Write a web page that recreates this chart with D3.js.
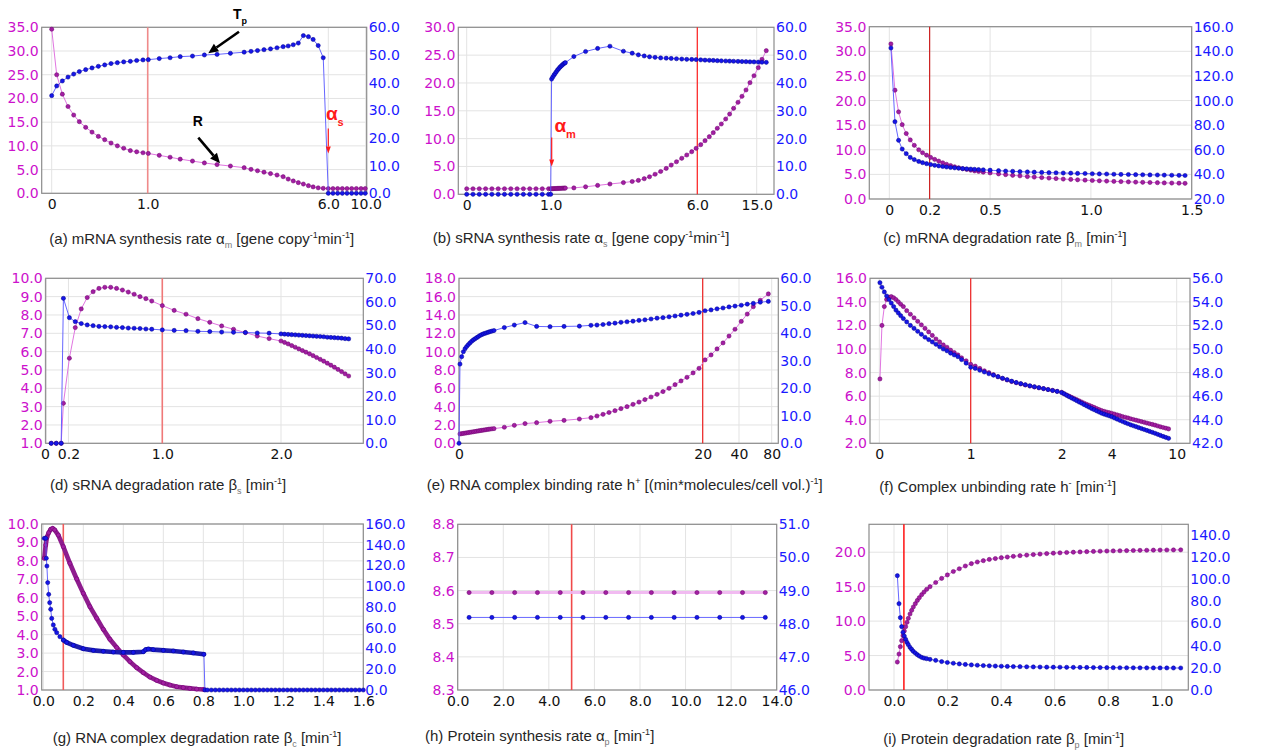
<!DOCTYPE html>
<html><head><meta charset="utf-8">
<script src="https://cdn.jsdelivr.net/npm/d3@7"></script>
<style>body{margin:0;background:#fff}</style>
</head><body>
<svg id="c" width="1261" height="754"></svg>
<script>
// ---------------- DATA ----------------
// (a) mRNA synthesis rate
const aX = [0,0.052,0.111,0.17,0.229,0.288,0.354,0.42,0.486,0.552,0.618,0.684,0.75,0.819,0.885,0.951,1.017,1.32,1.62,1.9,2.24,2.57,2.92,3.29,3.67,3.86,4.04,4.22,4.4,4.58,4.75,4.89,5.03,5.17,5.31,5.45,5.58,5.72,5.86,6.0,6.5,7.0,7.5,8.0,8.5,9.0,9.5,9.95];
const aR = [34.6,25.0,20.9,18.3,16.5,15.1,13.9,12.9,12.0,11.3,10.6,10.0,9.5,9.0,8.75,8.55,8.4,8.0,7.6,7.2,6.8,6.4,6.05,5.75,5.4,5.05,4.75,4.45,4.15,3.85,3.5,3.0,2.6,2.25,1.95,1.6,1.35,1.15,1.05,1.0,1.0,1.0,1.0,1.0,1.0,1.0,1.0,1.0];
const aT = [35.3,38.8,40.6,42.0,43.1,44.0,44.7,45.3,45.9,46.4,46.9,47.2,47.5,47.7,48.0,48.2,48.3,48.7,49.0,49.4,49.6,50.0,50.2,50.6,51.0,51.3,51.6,51.9,52.2,52.6,53.0,53.25,53.7,54.3,57.0,56.6,55.6,53.4,49.0,0,0,0,0,0,0,0,0,0];
const aXTicks = [0,1,6,10];
const aXLabels = ["0","1.0","6.0","10.0"];
const aLTicks = [0,5,10,15,20,25,30,35];
const aRTicks = [0,10,20,30,40,50,60];

// (b) sRNA synthesis rate
const bX = [0,0.075,0.15,0.225,0.3,0.375,0.45,0.525,0.6,0.675,0.75,0.825,0.9,0.975,
  1.0,1.03,1.07,1.11,1.15,1.19,1.23,1.27,1.31,1.35,1.39,1.43,1.47,1.5,
  1.79,2.19,2.6,3.02,3.48,3.78,3.99,4.19,4.37,4.56,4.75,4.94,5.11,5.29,5.47,5.64,5.81,5.96,
  6.52,7.17,7.82,8.42,9.03,9.64,10.3,10.9,11.5,12.17,12.77,13.38,13.98,14.59,15.24,15.8,16.45];
const bR = [1,1,1,1,1,1,1,1,1,1,1,1,1,1,
  1.0,1.0,1.01,1.02,1.03,1.04,1.05,1.06,1.07,1.08,1.09,1.1,1.11,1.12,
  1.15,1.35,1.6,1.85,2.1,2.3,2.5,2.8,3.15,3.6,4.1,4.65,5.25,5.85,6.47,7.06,7.65,8.26,
  8.91,9.63,10.35,11.07,11.86,12.63,13.53,14.42,15.45,16.53,17.6,18.74,20.05,21.3,22.74,24.25,25.8];
const bT = [0,0,0,0,0,0,0,0,0,0,0,0,0,0,
  0,41.4,42.1,42.8,43.4,44.0,44.6,45.1,45.6,46.0,46.4,46.8,47.1,47.3,
  49.5,51.3,52.4,53.2,51.4,50.7,50.1,49.7,49.4,49.2,49.0,48.9,48.8,48.7,48.6,48.5,48.45,48.4,
  48.3,48.2,48.15,48.1,48.0,47.95,47.9,47.85,47.8,47.75,47.7,47.65,47.6,47.55,47.5,47.45,47.4];
const bXTicks = [0,1,6,15];
const bXLabels = ["0","1.0","6.0","15.0"];
const bLTicks = [0,5,10,15,20,25,30];
const bRTicks = [0,10,20,30,40,50,60];

// (c) mRNA degradation rate
const cX = [0.008,0.028,0.046,0.064,0.084,0.104,0.124,0.146,0.165,0.185,0.205,0.225,0.245,0.265,0.284,0.304,0.324,0.344,0.364,0.384,0.404,0.423,0.443,0.466,0.5,0.542,0.577,0.612,0.648,0.685,0.719,0.756,0.792,0.827,0.863,0.9,0.934,0.971,1.007,1.042,1.078,1.114,1.149,1.186,1.222,1.257,1.293,1.33,1.364,1.401,1.437,1.467];
const cR = [31.5,22.1,17.7,15.1,13.3,12.0,10.9,10.0,9.4,8.9,8.45,8.05,7.7,7.35,7.05,6.8,6.55,6.35,6.15,6.0,5.85,5.7,5.6,5.45,5.3,5.1,4.95,4.8,4.7,4.55,4.45,4.35,4.25,4.15,4.05,3.98,3.9,3.83,3.76,3.7,3.64,3.58,3.53,3.48,3.43,3.39,3.35,3.31,3.27,3.24,3.21,3.18];
const cT = [142.7,82.8,67.7,60.6,56.8,53.8,52.0,50.5,49.5,48.7,48.0,47.4,46.9,46.4,46.0,45.6,45.3,45.0,44.7,44.5,44.3,44.1,43.9,43.7,43.4,43.0,42.7,42.5,42.2,42.0,41.8,41.6,41.4,41.3,41.1,41.0,40.8,40.7,40.5,40.4,40.3,40.1,40.0,39.9,39.8,39.7,39.6,39.5,39.4,39.3,39.2,39.1];
const cXTicks = [0,0.2,0.5,1.0,1.5];
const cXLabels = ["0","0.2","0.5","1.0","1.5"];
const cLTicks = [0,5,10,15,20,25,30,35];
const cRTicks = [20,40,60,80,100,120,140,160];

// (d) sRNA degradation rate
const dX = [0.053,0.096,0.138,0.157,0.208,0.258,0.309,0.36,0.41,0.46,0.51,0.56,0.61,0.66,0.71,0.76,0.81,0.86,0.91,1.0,1.1,1.2,1.3,1.4,1.5,1.6,1.7,1.8,1.9,2.0,2.03,2.06,2.09,2.12,2.15,2.18,2.21,2.24,2.27,2.3,2.33,2.36,2.39,2.42,2.45,2.48,2.51,2.54,2.57];
const dR = [1,1,1,3.18,5.64,7.31,8.33,8.95,9.27,9.45,9.51,9.51,9.45,9.36,9.25,9.13,9.0,8.89,8.76,8.51,8.25,8.04,7.8,7.6,7.4,7.22,7.04,6.85,6.71,6.58,6.5,6.42,6.33,6.24,6.15,6.06,5.97,5.88,5.78,5.68,5.58,5.48,5.37,5.26,5.15,5.03,4.91,4.79,4.67];
const dT = [0,0,0,61.5,53.3,51.6,50.8,50.2,49.9,49.6,49.5,49.4,49.2,49.1,48.9,48.8,48.7,48.5,48.4,48.1,47.9,47.8,47.5,47.4,47.2,47.1,47.0,46.8,46.7,46.4,46.3,46.2,46.1,46.0,45.9,45.8,45.7,45.6,45.5,45.4,45.3,45.2,45.0,44.9,44.8,44.7,44.6,44.4,44.3];
const dXTicks = [0,0.2,1,2];
const dXLabels = ["0","0.2","1.0","2.0"];
const dLTicks = [1,2,3,4,5,6,7,8,9,10];
const dRTicks = [0,10,20,30,40,50,60,70];

// (e) RNA complex binding rate
const eX = [0.08,0.22,0.36,0.5,0.63,0.77,0.9,1.04,1.18,1.31,1.45,1.59,1.72,1.86,2.0,2.14,2.27,2.41,2.54,2.7,2.87,
  3.72,4.54,5.42,6.37,7.47,8.62,9.88,
  10.83,11.32,11.82,12.31,12.8,13.29,13.79,14.28,14.77,15.26,15.76,16.25,16.74,17.24,17.73,18.22,18.71,19.21,19.7,
  21.3,24.6,27.9,31.2,34.5,37.8,42.8,50.1,57.5,66.0,75.9];
const eR = [1.02,1.05,1.08,1.11,1.14,1.17,1.2,1.23,1.26,1.29,1.32,1.35,1.38,1.41,1.44,1.47,1.5,1.53,1.55,1.58,1.6,
  1.75,1.96,2.15,2.25,2.4,2.5,2.65,
  2.8,2.98,3.16,3.36,3.56,3.78,4.0,4.25,4.5,4.77,5.05,5.34,5.64,6.0,6.4,6.8,7.2,7.68,8.18,
  9.1,9.64,10.3,10.95,11.7,12.44,13.3,14.1,14.9,15.6,16.3];
const eTX = [0].concat(eX);
const eT = [0,28.8,31.5,33.3,34.4,35.2,35.9,36.5,37.1,37.6,38.0,38.4,38.8,39.2,39.5,39.8,40.0,40.2,40.4,40.6,40.8,41.0,
  42.1,43.0,43.9,42.5,42.4,42.5,42.6,
  42.9,43.0,43.2,43.5,43.7,44.0,44.2,44.4,44.7,44.9,45.2,45.5,45.7,46.0,46.3,46.6,46.9,47.2,47.6,
  48.2,48.5,48.9,49.2,49.6,49.9,50.2,50.6,50.9,51.3,51.6];
const eXTicks = [0,20,40,80];
const eXLabels = ["0","20","40","80"];
const eLTicks = [0,2,4,6,8,10,12,14,16,18];
const eRTicks = [0,10,20,30,40,50,60];

// (f) Complex unbinding rate
const fX = [0.007,0.029,0.055,0.08,0.106,0.131,0.157,0.182,0.208,0.234,0.263,0.3,0.34,0.38,0.42,0.46,0.5,0.54,0.58,0.62,0.66,0.7,0.74,0.78,0.82,0.86,0.9,0.95,1.0,
  1.05,1.1,1.15,1.2,1.25,1.3,1.35,1.4,1.45,1.5,1.55,1.6,1.65,1.7,1.75,1.8,1.85,1.9,1.95,2.0,
  2.1,2.2,2.3,2.4,2.5,2.6,2.7,2.8,2.9,3.0,3.1,3.2,3.3,3.4,3.5,3.6,3.7,3.8,3.9,4.0,
  4.25,4.5,4.75,5.0,5.25,5.5,5.75,6.0,6.25,6.5,6.75,7.0,7.25,7.5,7.75,8.0,8.25,8.5,8.75,9.0,9.25];
const fR = [7.46,12.0,13.6,14.2,14.4,14.45,14.35,14.2,14.0,13.8,13.6,13.25,12.95,12.65,12.35,12.05,11.75,11.45,11.15,10.85,10.6,10.35,10.15,9.9,9.7,9.5,9.25,9.0,8.7,
  8.55,8.35,8.15,8.0,7.82,7.65,7.5,7.37,7.24,7.14,7.04,6.95,6.86,6.78,6.71,6.64,6.56,6.49,6.41,6.33,
  6.2,6.1,6.0,5.9,5.8,5.7,5.6,5.5,5.4,5.31,5.22,5.13,5.04,4.95,4.86,4.78,4.71,4.65,4.6,4.55,
  4.48,4.41,4.34,4.27,4.21,4.15,4.08,4.02,3.96,3.9,3.84,3.78,3.72,3.66,3.6,3.54,3.47,3.4,3.34,3.28,3.22];
const fT = [55.63,55.24,54.84,54.5,54.2,53.9,53.6,53.3,53.06,52.83,52.58,52.3,52.0,51.75,51.5,51.25,51.0,50.8,50.6,50.4,50.2,50.0,49.85,49.65,49.5,49.35,49.1,48.8,48.45,
  48.35,48.2,48.05,47.9,47.78,47.65,47.52,47.4,47.27,47.16,47.06,46.97,46.88,46.8,46.72,46.64,46.56,46.48,46.4,46.3,
  46.2,46.07,45.95,45.84,45.73,45.62,45.5,45.4,45.28,45.17,45.06,44.95,44.85,44.75,44.65,44.55,44.47,44.4,44.33,44.26,
  44.15,44.05,43.95,43.85,43.75,43.66,43.57,43.49,43.41,43.33,43.25,43.17,43.09,43.01,42.93,42.85,42.76,42.67,42.58,42.5,42.42];
const fXTicks = [0,1,2,4,10];
const fXLabels = ["0","1","2","4","10"];
const fLTicks = [2,4,6,8,10,12,14,16];
const fRTicks = [42,44,46,48,50,52,54,56];

// (g) RNA complex degradation rate
const gRX = [0.005,0.012,0.018,0.027,0.037,0.047,0.057,0.075,0.1,0.133,0.167,0.2,0.233,0.267,0.3,0.333,0.367,0.4,0.433,0.467,0.5,0.533,0.567,0.6,0.633,0.667,0.7,0.733,0.767,0.803];
const gR = [8.14,8.86,9.28,9.53,9.71,9.76,9.68,9.4,8.77,7.87,7.02,6.24,5.52,4.89,4.29,3.75,3.3,2.9,2.54,2.21,1.94,1.7,1.52,1.38,1.27,1.18,1.13,1.09,1.05,1.03];
const gTX = [0.005,0.012,0.015,0.018,0.022,0.027,0.032,0.037,0.042,0.05,0.058,0.067,0.083,0.1,0.117,0.15,0.2,0.25,0.3,0.35,0.4,0.45,0.5,0.512,0.525,0.55,0.6,0.65,0.7,0.75,0.803,0.808,
  0.82,0.84,0.86,0.88,0.9,0.92,0.94,0.96,0.98,1.0,1.02,1.04,1.06,1.08,1.1,1.12,1.14,1.16,1.18,1.2,
  1.22,1.24,1.26,1.28,1.3,1.32,1.34,1.36,1.38,1.4,1.42,1.44,1.46,1.48,1.5,1.52,1.54,1.56,1.58,1.6];
const gT = [146.2,146.2,127,119.5,103.5,92.2,84.2,77.8,69,62.7,58.5,55.3,51.4,48.2,45.9,43.1,39.8,38.2,37.3,36.6,36.3,36.3,36.9,38.9,39.5,38.9,38.2,37.6,36.6,35.7,34.4,0,
  0,0,0,0,0,0,0,0,0,0,0,0,0,0,0,0,0,0,0,0,
  0,0,0,0,0,0,0,0,0,0,0,0,0,0,0,0,0,0,0,0];
const gXTicks = [0,0.2,0.4,0.6,0.8,1.0,1.2,1.4,1.6];
const gXLabels = ["0.0","0.2","0.4","0.6","0.8","1.0","1.2","1.4","1.6"];
const gLTicks = [1,2,3,4,5,6,7,8,9,10];
const gRTicks = [0,20,40,60,80,100,120,140,160];

// (h) Protein synthesis rate
const hX = [0.5,1.5,2.5,3.5,4.5,5.5,6.5,7.5,8.5,9.5,10.5,11.5,12.5,13.5];
const hR = [8.594,8.594,8.594,8.594,8.594,8.594,8.594,8.594,8.594,8.594,8.594,8.594,8.594,8.594];
const hT = [48.19,48.19,48.19,48.19,48.19,48.19,48.19,48.19,48.19,48.19,48.19,48.19,48.19,48.19];
const hXTicks = [0,2,4,6,8,10,12,14];
const hXLabels = ["0.0","2.0","4.0","6.0","8.0","10.0","12.0","14.0"];
const hLTicks = [8.3,8.4,8.5,8.6,8.7,8.8];
const hRTicks = [46,47,48,49,50,51];

// (i) Protein degradation rate
const iX = [0.0125,0.0187,0.0237,0.0286,0.0336,0.0386,0.0436,0.0486,0.0535,0.0598,0.066,0.0722,0.0797,0.0872,0.0946,0.1034,0.1121,0.122,0.1345,0.1557,0.178,0.1993,0.2217,0.244,0.2665,0.289,0.3113,0.3337,0.356,0.3786,0.401,0.4234,0.4458,0.4707,0.4956,0.5205,0.5455,0.5704,0.5953,0.62,0.645,0.67,0.695,0.72,0.745,0.77,0.795,0.819,0.844,0.869,0.894,0.919,0.944,0.969,0.994,1.019,1.044,1.071];
const iR = [4.06,5.22,6.29,7.16,7.89,8.56,9.19,9.82,10.4,11.03,11.56,12.05,12.53,13.0,13.4,13.84,14.22,14.61,15.0,15.6,16.2,16.7,17.2,17.6,18.0,18.34,18.58,18.77,18.95,19.08,19.2,19.3,19.4,19.5,19.58,19.66,19.73,19.8,19.86,19.91,19.96,20.0,20.04,20.08,20.11,20.14,20.17,20.19,20.21,20.23,20.25,20.27,20.28,20.3,20.31,20.32,20.33,20.34];
const iT = [103,77.8,65.2,57.1,52,48.6,45.6,42.9,40.8,38.4,36.6,34.8,33.3,31.8,30.6,29.4,28.7,28.2,27.6,26.7,25.6,24.8,24.1,23.5,23.0,22.6,22.3,22.0,21.8,21.6,21.4,21.25,21.1,21.0,20.9,20.8,20.7,20.6,20.55,20.5,20.45,20.4,20.35,20.3,20.25,20.2,20.15,20.1,20.07,20.04,20.01,19.98,19.95,19.92,19.9,19.87,19.85,19.82];
const iXTicks = [0,0.2,0.4,0.6,0.8,1.0];
const iXLabels = ["0.0","0.2","0.4","0.6","0.8","1.0"];
const iLTicks = [0,5,10,15,20];
const iRTicks = [0,20,40,60,80,100,120,140];

// captions: [text, mode] mode: n normal, b sub, p sup
const capA = [["(a) mRNA synthesis rate α","n"],["m","b"],[" [gene copy","n"],["-1","p"],["min","n"],["-1","p"],["]","n"]];
const capB = [["(b) sRNA synthesis rate α","n"],["s","b"],[" [gene copy","n"],["-1","p"],["min","n"],["-1","p"],["]","n"]];
const capC = [["(c) mRNA degradation rate β","n"],["m","b"],[" [min","n"],["-1","p"],["]","n"]];
const capD = [["(d) sRNA degradation rate β","n"],["s","b"],[" [min","n"],["-1","p"],["]","n"]];
const capE = [["(e) RNA complex binding rate h","n"],["+","p"],[" [(min*molecules/cell vol.)","n"],["-1","p"],["]","n"]];
const capF = [["(f) Complex unbinding rate h","n"],["-","p"],[" [min","n"],["-1","p"],["]","n"]];
const capG = [["(g) RNA complex degradation rate β","n"],["c","b"],[" [min","n"],["-1","p"],["]","n"]];
const capH = [["(h) Protein synthesis rate α","n"],["p","b"],[" [min","n"],["-1","p"],["]","n"]];
const capI = [["(i) Protein degradation rate β","n"],["p","b"],[" [min","n"],["-1","p"],["]","n"]];

// ---------------- DRAWING ----------------
const svg = d3.select('#c');
const fmt1 = d3.format(".1f");
const MAG_LINE='#dd66dd', MAG_DOT='#a21ea2', MAG_EDGE='#6a006a';
const BLU_LINE='#5555ff', BLU_DOT='#1616e8', BLU_EDGE='#00008a';

const panels = [
 {box:[41.7,27.3,366.7,193.3], xd:[0,1,6,10], xr:[51.7,147.7,328.3,365.7], xt:aXTicks, xl:aXLabels,
  yl:[0,35], ylt:aLTicks, yr:[0,60], yrt:aRTicks, ref:1.0, refC:'#f08a8a', refW:1.6,
  rx:aX, r:aR, tx:aX, t:aT, cap:capA, capPos:[49.3,244]},
 {box:[458.3,27.3,774,194.3], xd:[0,1,6,15], xr:[466.7,550.7,697.3,756.7], xt:bXTicks, xl:bXLabels,
  yl:[0,30], ylt:bLTicks, yr:[0,60], yrt:bRTicks, ref:6.0, refC:'#ff2020', refW:1.2,
  rx:bX, r:bR, tx:bX, t:bT, cap:capB, capPos:[432.7,243]},
 {box:[869.3,26.7,1191.7,199], xd:[0,1.5], xr:[889.3,1191.7], xt:cXTicks, xl:cXLabels,
  yl:[0,35], ylt:cLTicks, yr:[20,160], yrt:cRTicks, ref:0.2, refC:'#cc2020', refW:1.2,
  rx:cX, r:cR, tx:cX, t:cT, cap:capC, capPos:[883.3,243]},
 {box:[45.7,278.3,363.3,443.3], xd:[0,1,2], xr:[45,162.3,281], xt:dXTicks, xl:dXLabels,
  yl:[1,10], ylt:dLTicks, yr:[0,70], yrt:dRTicks, ref:1.0, refC:'#f07878', refW:1.6,
  rx:dX, r:dR, tx:dX, t:dT, cap:capD, capPos:[50,490]},
 {box:[459,278.3,778.3,443.3], xd:[0,20,40,80], xr:[459,702.7,739,771.7], xt:eXTicks, xl:eXLabels,
  yl:[0,18], ylt:eLTicks, yr:[0,60], yrt:eRTicks, ref:20, refC:'#ee2222', refW:1.2,
  rx:eX, r:eR, tx:eTX, t:eT, cap:capE, capPos:[426.7,489.5]},
 {box:[870,278.3,1190,443.3], xd:[0,1,2,4,10], xr:[879.3,970.7,1061.7,1111.7,1176.7], xt:fXTicks, xl:fXLabels,
  yl:[2,16], ylt:fLTicks, yr:[42,56], yrt:fRTicks, ref:1, refC:'#ee2222', refW:1.2,
  rx:fX, r:fR, tx:fX, t:fT, cap:capF, capPos:[879.3,491.5]},
 {box:[41.7,524,363.3,690], xd:[0,1.6], xr:[43.3,363.3], xt:gXTicks, xl:gXLabels,
  yl:[1,10], ylt:gLTicks, yr:[0,160], yrt:gRTicks, ref:0.1, refC:'#f05a5a', refW:1.6,
  rx:gRX, r:gR, tx:gTX, t:gT, cap:capG, capPos:[52.7,743], thickR:true, thickT:[0.09,0.803]},
 {box:[457.7,524.3,776.7,690], xd:[0,14], xr:[457.7,776.7], xt:hXTicks, xl:hXLabels,
  yl:[8.3,8.8], ylt:hLTicks, yr:[46,51], yrt:hRTicks, ref:5, refC:'#f04a4a', refW:1.6,
  rx:hX, r:hR, tx:hX, t:hT, cap:capH, capPos:[425,740.5], bandR:true},
 {box:[869,524.3,1188.3,690], xd:[0,1], xr:[894,1161.7], xt:iXTicks, xl:iXLabels,
  yl:[0,24.05], ylt:iLTicks, yr:[0,149.3], yrt:iRTicks, ref:0.037, refC:'#ff1010', refW:1.5,
  rx:iX, r:iR, tx:iX, t:iT, cap:capI, capPos:[883.3,744]}
];

function styleAxis(sel, color){
  sel.select('.domain').remove();
  sel.selectAll('text').attr('fill', color).attr('font-family','DejaVu Sans').attr('font-size',14);
}

function series(g, xs, ys, x, y, lineC, dotC, edgeC, opt){
  const pts = xs.map((v,i)=>[v, ys[i]]);
  const line = d3.line().x(d=>x(d[0])).y(d=>y(d[1]));
  g.append('path').attr('d', line(pts)).attr('fill','none')
    .attr('stroke', opt.band ? '#f0b4f0' : lineC)
    .attr('stroke-width', opt.band ? 3 : 1).attr('stroke-opacity', 0.9);
  if (opt.thick){
    const sub = pts.filter(d=>d[0]>=opt.thick[0] && d[0]<=opt.thick[1]);
    g.append('path').attr('d', line(sub)).attr('fill','none')
      .attr('stroke', opt.thickC).attr('stroke-width', 4.6).attr('stroke-linecap','round');
  }
  g.append('g').selectAll('circle').data(pts).join('circle')
    .attr('cx', d=>x(d[0])).attr('cy', d=>y(d[1])).attr('r', 2.1)
    .attr('fill', dotC).attr('stroke', edgeC).attr('stroke-width', 0.5);
}

function caption(parts, pos){
  const t = svg.append('text').attr('x', pos[0]).attr('y', pos[1])
    .attr('font-family','Liberation Sans, Arial, sans-serif').attr('font-size', 15).attr('fill','#262626');
  let pending = 0;
  parts.forEach(([s,m])=>{
    const sp = t.append('tspan').text(s);
    if (m==='n') { if (pending) sp.attr('dy', pending); pending = 0; }
    else if (m==='b') { sp.attr('dy', 4 + pending).attr('font-size',9).attr('fill','#777'); pending = -4; }
    else { sp.attr('dy', -6 + pending).attr('font-size',9); pending = 6; }
  });
}

panels.forEach(p=>{
  const [L,T,R,B] = p.box;
  const x = d3.scaleLinear().domain(p.xd).range(p.xr);
  const yl = d3.scaleLinear().domain(p.yl).range([B,T]);
  const yr = d3.scaleLinear().domain(p.yr).range([B,T]);
  const g = svg.append('g');
  g.append('g').selectAll('line').data(p.ylt).join('line')
    .attr('x1',L).attr('x2',R).attr('y1',d=>yl(d)).attr('y2',d=>yl(d))
    .attr('stroke','#e3e3e3').attr('stroke-width',1);
  g.append('g').selectAll('line').data(p.xt).join('line')
    .attr('x1',d=>x(d)).attr('x2',d=>x(d)).attr('y1',T).attr('y2',B)
    .attr('stroke','#e3e3e3').attr('stroke-width',1);
  g.append('rect').attr('x',L).attr('y',T).attr('width',R-L).attr('height',B-T)
    .attr('fill','none').attr('stroke','#8c8c8c').attr('stroke-width',1.2);
  g.append('line').attr('x1',x(p.ref)).attr('x2',x(p.ref)).attr('y1',T).attr('y2',B)
    .attr('stroke',p.refC).attr('stroke-width',p.refW);

  g.append('g').attr('transform',`translate(${L},0)`)
    .call(d3.axisLeft(yl).tickValues(p.ylt).tickFormat(fmt1).tickSize(0).tickPadding(3))
    .call(s=>styleAxis(s,'#cc11cc'));
  g.append('g').attr('transform',`translate(${R},0)`)
    .call(d3.axisRight(yr).tickValues(p.yrt).tickFormat(fmt1).tickSize(0).tickPadding(2))
    .call(s=>styleAxis(s,'#1a1aff'));
  g.append('g').attr('transform',`translate(0,${B})`)
    .call(d3.axisBottom(x).tickValues(p.xt).tickFormat((d,i)=>p.xl[i]).tickSize(0).tickPadding(6))
    .call(s=>styleAxis(s,'#111'));

  series(g, p.rx, p.r, x, yl, MAG_LINE, MAG_DOT, MAG_EDGE,
    {band:p.bandR, thick: p.thickR ? [-1,100] : null, thickC:'#8e1c8e'});
  series(g, p.tx, p.t, x, yr, BLU_LINE, BLU_DOT, BLU_EDGE,
    {thick: p.thickT || null, thickC:'#1c1cae'});

  caption(p.cap, p.capPos);
});

// ---------------- ANNOTATIONS ----------------
function arrow(x1,y1,x2,y2,color,w,hl,hw){
  const a=Math.atan2(y2-y1,x2-x1);
  const bx=x2-hl*Math.cos(a), by=y2-hl*Math.sin(a);
  svg.append('line').attr('x1',x1).attr('y1',y1).attr('x2',bx).attr('y2',by)
    .attr('stroke',color).attr('stroke-width',w);
  const px=-Math.sin(a)*hw/2, py=Math.cos(a)*hw/2;
  svg.append('path').attr('d',`M${x2},${y2}L${bx+px},${by+py}L${bx-px},${by-py}Z`).attr('fill',color);
}
function label(x,y,txt,size,color,weight){
  svg.append('text').attr('x',x).attr('y',y).text(txt)
    .attr('font-family','Liberation Sans, Arial, sans-serif').attr('font-size',size)
    .attr('font-weight',weight).attr('fill',color);
}
label(233,18.5,'T',14,'#000','bold'); label(241.5,24,'p',9,'#000','bold');
arrow(239,31.7,208.3,53.3,'#000',2.6,10,9);
label(192.7,126,'R',14,'#000','bold');
arrow(198.3,137.7,220,163.3,'#000',2.6,10,9);
label(326,120,'α',19,'#ff1a1a','bold'); label(337.5,126,'s',11,'#ff1a1a','bold');
arrow(328.3,128.5,328.3,153.5,'#ff1a1a',1.2,7,5);
label(554.5,131.7,'α',19,'#ff1a1a','bold'); label(566,137.7,'m',11,'#ff1a1a','bold');
arrow(551.7,137.5,551.7,166.5,'#ff1a1a',1.2,7,5);
</script>
</body></html>
